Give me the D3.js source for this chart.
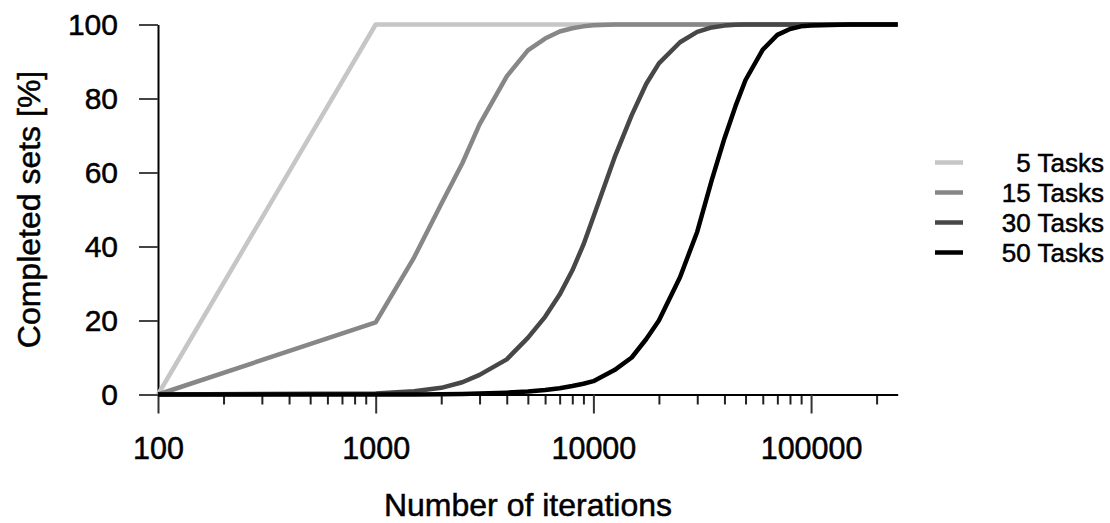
<!DOCTYPE html>
<html>
<head>
<meta charset="utf-8">
<script src="https://cdn.jsdelivr.net/npm/d3@7"></script>
<style>
  body { margin: 0; background: #fff; }
  svg { display: block; font-family: "Liberation Sans", Arial, sans-serif; }
  svg text { stroke: #000; stroke-width: 0.5px; }
</style>
</head>
<body>
<svg id="chart" width="1110" height="523"></svg>
<script>
// x values shared by all series
var iterations = [100, 1000, 1500, 2000, 2500, 3000, 4000, 5000, 6000, 7000, 8000, 9000, 10000,
    12500, 15000, 17500, 20000, 25000, 30000, 35000, 40000, 45000, 50000,
    60000, 70000, 80000, 90000, 100000, 150000, 200000, 250000];

var tasks5 = [0, 100, 100, 100, 100, 100, 100, 100, 100, 100, 100, 100, 100,
    100, 100, 100, 100, 100, 100, 100, 100, 100, 100,
    100, 100, 100, 100, 100, 100, 100, 100];
var tasks15 = [0, 19.5, 37, 51.5, 62.5, 73, 86, 93, 96.2, 98.1, 99, 99.5, 99.8,
    100, 100, 100, 100, 100, 100, 100, 100, 100, 100,
    100, 100, 100, 100, 100, 100, 100, 100];
var tasks30 = [0, 0.3, 0.9, 1.8, 3.3, 5.3, 9.5, 15.3, 21, 27, 33.5, 40.5, 48,
    64, 75.5, 84, 89.5, 95.2, 98, 99.2, 99.7, 99.9, 100,
    100, 100, 100, 100, 100, 100, 100, 100];
var tasks50 = [0, 0, 0, 0.1, 0.15, 0.25, 0.5, 0.8, 1.2, 1.7, 2.3, 2.9, 3.6,
    6.6, 10, 15, 20, 31.7, 44, 58, 69.2, 78, 85,
    93.2, 97.2, 98.8, 99.5, 99.7, 100, 100, 100];

var seriesNames = ["5 Tasks", "15 Tasks", "30 Tasks", "50 Tasks"];
var seriesValues = [tasks5, tasks15, tasks30, tasks50];
var seriesColors = ["#c6c6c6", "#878787", "#474747", "#000000"];

var yTicks = [0, 20, 40, 60, 80, 100];
var xMajorTicks = [100, 1000, 10000, 100000];
var xMinorTicks = [];
[100, 1000, 10000, 100000].forEach(function (dec) {
    for (var m = 2; m <= 9; m++) {
        if (dec * m <= 250000) xMinorTicks.push(dec * m);
    }
});

var svg = d3.select("#chart");

var x = d3.scaleLog().domain([100, 250000]).range([158, 897.7]);
var y = d3.scaleLinear().domain([0, 100]).range([394.5, 24.5]);

// y axis
var yAxis = svg.append("g")
    .attr("transform", "translate(158,0)")
    .call(d3.axisLeft(y).tickValues(yTicks).tickSize(19).tickSizeOuter(0).tickPadding(21));
yAxis.select(".domain").attr("stroke", "#000").attr("stroke-width", 2);
yAxis.selectAll(".tick line").attr("stroke", "#444").attr("stroke-width", 2);
yAxis.selectAll(".tick text").attr("font-size", "30px").attr("fill", "#000");

// x axis minor ticks
var xMinor = svg.append("g")
    .attr("transform", "translate(0,394.5)")
    .call(d3.axisBottom(x).tickValues(xMinorTicks).tickSize(10).tickSizeOuter(0).tickFormat(""));
xMinor.select(".domain").remove();
xMinor.selectAll(".tick line").attr("stroke", "#222").attr("stroke-width", 2);

// x axis major ticks
var xAxis = svg.append("g")
    .attr("transform", "translate(0,394.5)")
    .call(d3.axisBottom(x).tickValues(xMajorTicks).tickSize(19).tickSizeOuter(0).tickPadding(24)
        .tickFormat(function (d) { return d; }));
xAxis.select(".domain").attr("stroke", "#000").attr("stroke-width", 2);
xAxis.selectAll(".tick line").attr("stroke", "#333").attr("stroke-width", 2);
xAxis.selectAll(".tick text").attr("font-size", "30.5px").attr("fill", "#000");

var line = d3.line()
    .x(function (d) { return x(d[0]); })
    .y(function (d) { return y(d[1]); });

seriesValues.forEach(function (vals, i) {
    svg.append("path")
        .datum(iterations.map(function (it, j) { return [it, vals[j]]; }))
        .attr("fill", "none")
        .attr("stroke", seriesColors[i])
        .attr("stroke-width", 4.5)
        .attr("stroke-linejoin", "round")
        .attr("d", line);
});

// axis titles
svg.append("text")
    .attr("transform", "translate(40,209.5) rotate(-90)")
    .attr("text-anchor", "middle")
    .attr("font-size", "32px")
    .text("Completed sets [%]");

svg.append("text")
    .attr("x", 528)
    .attr("y", 516)
    .attr("text-anchor", "middle")
    .attr("font-size", "32px")
    .text("Number of iterations");

// legend
var legend = svg.append("g");
seriesNames.forEach(function (name, i) {
    var ly = 162.5 + i * 30;
    legend.append("line")
        .attr("x1", 935).attr("x2", 963)
        .attr("y1", ly).attr("y2", ly)
        .attr("stroke", seriesColors[i])
        .attr("stroke-width", 4.5);
    legend.append("text")
        .attr("x", 1104)
        .attr("y", ly + 9)
        .attr("text-anchor", "end")
        .attr("font-size", "26px")
        .text(name);
});
</script>
</body>
</html>
